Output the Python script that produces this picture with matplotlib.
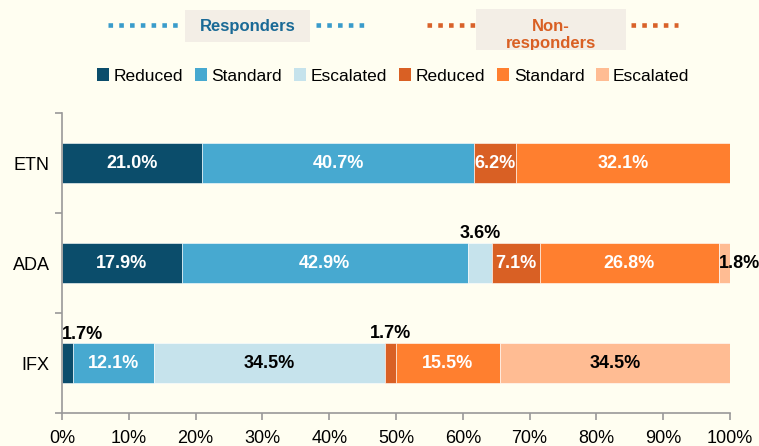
import matplotlib
matplotlib.use("Agg")
import matplotlib.pyplot as plt
from matplotlib.patches import Rectangle, Patch
from matplotlib.lines import Line2D
import numpy as np

plt.rcParams['font.family'] = ['Liberation Sans', 'DejaVu Sans']

categories = ["ETN", "ADA", "IFX"]
series_names = ["Reduced", "Standard", "Escalated", "Reduced", "Standard", "Escalated"]
resp_reduced = [21.0, 17.9, 1.7]
resp_standard = [40.7, 42.9, 12.1]
resp_escalated = [0.0, 3.6, 34.5]
non_reduced = [6.2, 7.1, 1.7]
non_standard = [32.1, 26.8, 15.5]
non_escalated = [0.0, 1.8, 34.5]
xticks = [0, 10, 20, 30, 40, 50, 60, 70, 80, 90, 100]

series = [resp_reduced, resp_standard, resp_escalated, non_reduced, non_standard, non_escalated]
colors = ["#0B4D6B", "#47A9D0", "#C6E3EC", "#D96024", "#FF7F2F", "#FFBC93"]
label_colors = ["white", "white", "black", "white", "white", "black"]

BG = "#FFFEF1"
fig = plt.figure(figsize=(7.59, 4.46), dpi=100, facecolor=BG)
ax = fig.add_axes([62/759, 1-413/446, (730-62)/759, (413-113)/446])
ax.set_facecolor(BG)

ypos = np.arange(len(categories))
left = np.zeros(len(categories))
LFS = 13
for s, vals in enumerate(series):
    vals = np.array(vals)
    ax.barh(ypos, vals, left=left, height=0.4, color=colors[s],
            edgecolor="white", linewidth=0.4)
    for i, v in enumerate(vals):
        if v <= 0:
            continue
        txt = f"{v:.1f}%"
        if v >= 5:
            ax.text(left[i] + v/2, ypos[i], txt, ha="center", va="center",
                    color=label_colors[s], fontsize=LFS, fontweight="bold")
        elif left[i] + v >= 99.9:
            ax.text(left[i], ypos[i], txt, ha="left", va="center",
                    color="black", fontsize=LFS, fontweight="bold", clip_on=False)
        elif left[i] < 0.5:
            ax.text(left[i], ypos[i] - 0.29, txt, ha="left", va="center",
                    color="black", fontsize=LFS, fontweight="bold")
        else:
            ax.text(left[i] + v/2, ypos[i] - 0.30, txt, ha="center", va="center",
                    color="black", fontsize=LFS, fontweight="bold")
    left = left + vals

ax.set_xlim(0, 100)
ax.set_ylim(2.5, -0.5)
ax.set_xticks(xticks)
ax.set_xticklabels([f"{t}%" for t in xticks])
ax.set_yticks([-0.5, 0.5, 1.5, 2.5])
ax.set_yticklabels([])
ax.set_yticks(ypos, minor=True)
ax.set_yticklabels(categories, minor=True)
ax.tick_params(axis="y", which="minor", length=0, pad=9, labelsize=13)
ax.tick_params(axis="y", which="major", length=5, color="#999999", width=1.2)
ax.tick_params(axis="x", length=5, color="#999999", width=1.2, labelsize=13, pad=7)
for sp in ["top", "right"]:
    ax.spines[sp].set_visible(False)
for sp in ["left", "bottom"]:
    ax.spines[sp].set_color("#999999")
    ax.spines[sp].set_linewidth(1.2)

# legend
handles = [Patch(facecolor=c, edgecolor="none") for c in colors]
fig.legend(handles, series_names, loc="center", bbox_to_anchor=(393/759, 1-76/446),
           ncol=6, frameon=False, fontsize=12.5, handlelength=0.7, handleheight=0.7,
           handletextpad=0.25, columnspacing=0.7, borderaxespad=0)

# header groups
W, H = 759, 446
def fx(x): return x / W
def fy(y): return 1 - y / H

box1 = Rectangle((fx(185), fy(42)), (310-185)/W, 32/H, transform=fig.transFigure,
                 facecolor="#F3EEE6", edgecolor="none")
box2 = Rectangle((fx(476), fy(50)), (626-476)/W, 41/H, transform=fig.transFigure,
                 facecolor="#F3EEE6", edgecolor="none")
fig.patches.append(box1)
fig.patches.append(box2)
blue_dot = "#3A9CCB"
orange_dot = "#D9622A"
for (x0, x1, c) in [(108, 182, blue_dot), (316, 366, blue_dot), (427, 476, orange_dot), (631, 678, orange_dot)]:
    fig.lines.append(Line2D([fx(x0), fx(x1)], [fy(25), fy(25)], transform=fig.transFigure,
                            color=c, linewidth=3.3, dashes=(1.0, 1.35), solid_capstyle="butt",
                            dash_capstyle="butt"))
fig.text(fx(248), fy(26), "Responders", ha="center", va="center", color="#1A6A96",
         fontsize=12, fontweight="bold", family=["Liberation Sans Narrow", "Liberation Sans"])
t2 = fig.text(fx(551), fy(35), "Non-\nresponders", ha="center", va="center", color="#D96024",
              fontsize=12, fontweight="bold", linespacing=1.1,
              family=["Liberation Sans Narrow", "Liberation Sans"])
t2.set_clip_path(box2)

fig.savefig("out.png", dpi=100, facecolor=BG)
